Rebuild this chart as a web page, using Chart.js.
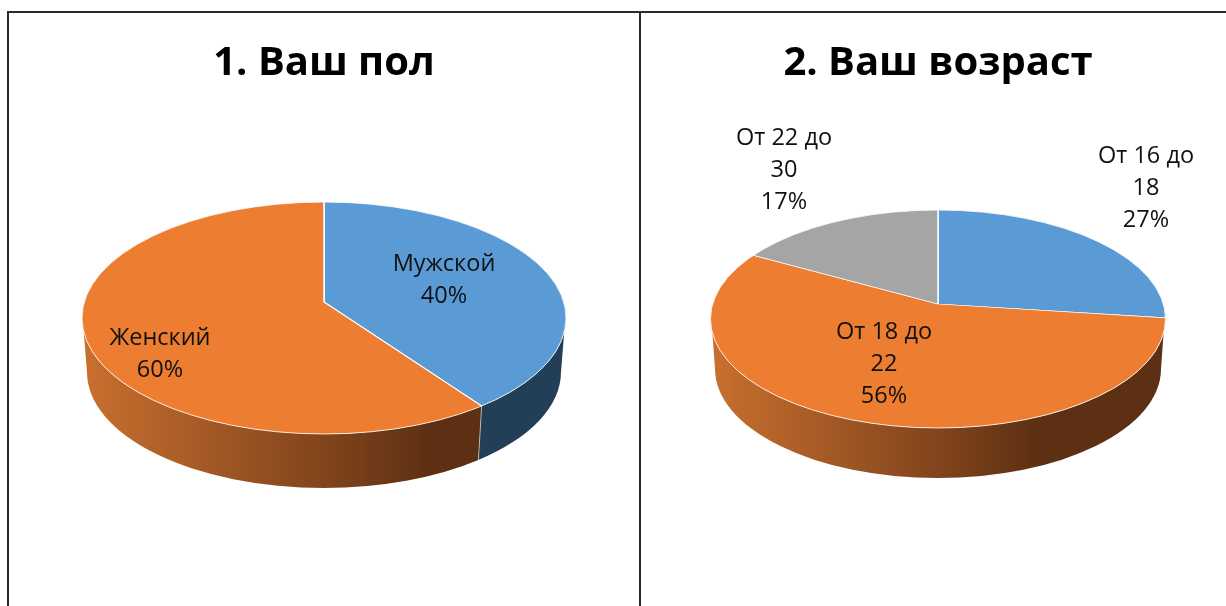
<!DOCTYPE html>
<html>
<head>
<meta charset="utf-8">
<script src="https://cdn.jsdelivr.net/npm/chart.js@4"></script>
<style>
    html, body { margin: 0; padding: 0; background: #fff; overflow: hidden; }
    body { width: 1226px; height: 606px; position: relative; }
    canvas { position: absolute; top: 0; }
    #chartPol { left: 0; }
    #chartVozrast { left: 650px; }
    .linha { position: absolute; background: #2a2a2a; }
</style>
</head>
<body>
<div class="linha" style="left:7px;top:11px;width:1219px;height:1.5px"></div>
<div class="linha" style="left:7px;top:11px;width:1.5px;height:595px"></div>
<div class="linha" style="left:639px;top:11px;width:1.5px;height:595px"></div>
<canvas id="chartPol" width="648" height="606"></canvas>
<canvas id="chartVozrast" width="576" height="606"></canvas>
<script>
// Data
const titlePol = '1. Ваш пол';
const categoriesPol = [['Мужской'], ['Женский']];
const valuesPol = [40, 60];
const titleVozrast = '2. Ваш возраст';
const categoriesVozrast = [['От 16 до', '18'], ['От 18 до', '22'], ['От 22 до', '30']];
const valuesVozrast = [27, 56, 17];

const topColors = ['#5B9BD5', '#ED7D31', '#A5A5A5'];
const FONT = '"Open Sans", sans-serif';

// ponto onde o raio que sai do vertice corta a elipse, devolve o angulo na elipse
function ellipseParam(a, arc, e) {
    const dx = Math.cos(a) / e.rx;
    const dy = Math.sin(a) * e.k / e.ry;
    const oy = -e.offY / e.ry;
    const A = dx * dx + dy * dy;
    const B = 2 * oy * dy;
    const C = oy * oy - 1;
    const s = (-B + Math.sqrt(B * B - 4 * A * C)) / (2 * A);
    return Math.atan2(oy + dy * s, dx * s);
}

function norm(t) {
    while (t < 0) t += Math.PI * 2;
    while (t >= Math.PI * 2) t -= Math.PI * 2;
    return t;
}

const pie3d = {
    id: 'pie3d',
    beforeDatasetsDraw(chart, args, o) {
        const ctx = chart.ctx;
        const arcs = chart.getDatasetMeta(0).data;
        const ax = arcs[0].x, ay = arcs[0].y;
        const e = { rx: o.rx, ry: o.ry, k: o.ry / o.rx, offY: o.offY };
        const cy = ay + o.offY;
        const minT = o.wallStart, maxT = Math.PI - o.wallStart;

        // parede lateral
        arcs.forEach((arc, i) => {
            let t0 = norm(ellipseParam(arc.startAngle, arc, e));
            let t1 = norm(ellipseParam(arc.endAngle, arc, e));
            // a fatia passa pelo lado direito (t = 0)
            if (t1 < t0) t0 = 0;
            if (t0 > Math.PI) return;
            const a = Math.max(t0, minT);
            const b = Math.min(t1, maxT);
            if (b <= a) return;
            const b0 = t0 <= minT ? 0 : a;
            const b1 = t1 >= maxT ? Math.PI : b;

            ctx.save();
            ctx.beginPath();
            ctx.ellipse(ax, cy, o.rx, o.ry, 0, a, b);
            ctx.ellipse(ax, cy + o.depth, o.rx - o.inset, o.ry, 0, b1, b0, true);
            ctx.closePath();
            if (i === 0) {
                ctx.fillStyle = '#233F58';
            } else {
                const g = ctx.createLinearGradient(ax - o.rx, 0, ax + o.rx, 0);
                g.addColorStop(0, '#C8702F');
                g.addColorStop(0.5, '#82441C');
                g.addColorStop(0.72, '#5D3013');
                g.addColorStop(1, '#5D3013');
                ctx.fillStyle = g;
            }
            ctx.fill();
            ctx.strokeStyle = 'rgba(235,235,235,0.75)';
            ctx.lineWidth = 0.8;
            if (t0 > minT) {
                ctx.beginPath();
                ctx.moveTo(ax + o.rx * Math.cos(t0), cy + o.ry * Math.sin(t0));
                ctx.lineTo(ax + (o.rx - o.inset) * Math.cos(t0), cy + o.depth + o.ry * Math.sin(t0));
                ctx.stroke();
            }
            ctx.restore();
        });

        // tampo: fatias do Chart.js achatadas e cortadas pela elipse
        ctx.save();
        ctx.beginPath();
        ctx.ellipse(ax, cy, o.rx, o.ry, 0, 0, Math.PI * 2);
        ctx.clip();
        ctx.translate(ax, ay);
        ctx.scale(1, e.k);
        ctx.translate(-ax, -ay);
    },
    afterDatasetsDraw(chart, args, o) {
        const ctx = chart.ctx;
        ctx.restore();
        const arc = chart.getDatasetMeta(0).data[0];
        ctx.save();
        ctx.beginPath();
        ctx.ellipse(arc.x, arc.y + o.offY, o.rx, o.ry, 0, 0, Math.PI * 2);
        ctx.strokeStyle = 'rgba(255,255,255,0.8)';
        ctx.lineWidth = 1;
        ctx.stroke();

        // rotulos
        ctx.fillStyle = '#111';
        ctx.font = o.labelFont;
        ctx.textAlign = 'center';
        ctx.textBaseline = 'middle';
        const values = chart.data.datasets[0].data;
        chart.data.labels.forEach((lines, i) => {
            const pos = o.labelPos[i];
            lines.concat([values[i] + '%']).forEach((txt, n) => {
                ctx.fillText(txt, arc.x + pos[0], arc.y + pos[1] + n * o.lineStep);
            });
        });
        ctx.restore();
    }
};

function criarPizza(id, title, categories, values, padBottom, geom) {
    return new Chart(document.getElementById(id), {
        type: 'pie',
        data: {
            labels: categories,
            datasets: [{
                data: values,
                backgroundColor: topColors.slice(0, values.length),
                borderColor: '#fff',
                borderWidth: 1.5,
                clip: false
            }]
        },
        options: {
            responsive: false,
            animation: false,
            radius: 290,
            layout: { padding: { bottom: padBottom } },
            plugins: {
                legend: { display: false },
                tooltip: { enabled: false },
                title: {
                    display: true,
                    text: title,
                    color: '#000',
                    font: { family: FONT, size: 40, weight: 'bold' },
                    padding: { top: 40, bottom: 0 }
                },
                pie3d: geom
            }
        },
        plugins: [pie3d]
    });
}

criarPizza('chartPol', titlePol, categoriesPol, valuesPol, 90, {
    rx: 242, ry: 116, offY: 16, depth: 54, inset: 5, wallStart: 0.12,
    labelFont: '23.5px ' + FONT, lineStep: 32,
    labelPos: [[120, -38], [-164, 36]]
});

criarPizza('chartVozrast', titleVozrast, categoriesVozrast, valuesVozrast, 86, {
    rx: 227.5, ry: 109, offY: 15, depth: 50, inset: 4.5, wallStart: 0.13,
    labelFont: '23.5px ' + FONT, lineStep: 32,
    labelPos: [[208, -148], [-54, 28], [-154, -166]]
});
</script>
</body>
</html>
